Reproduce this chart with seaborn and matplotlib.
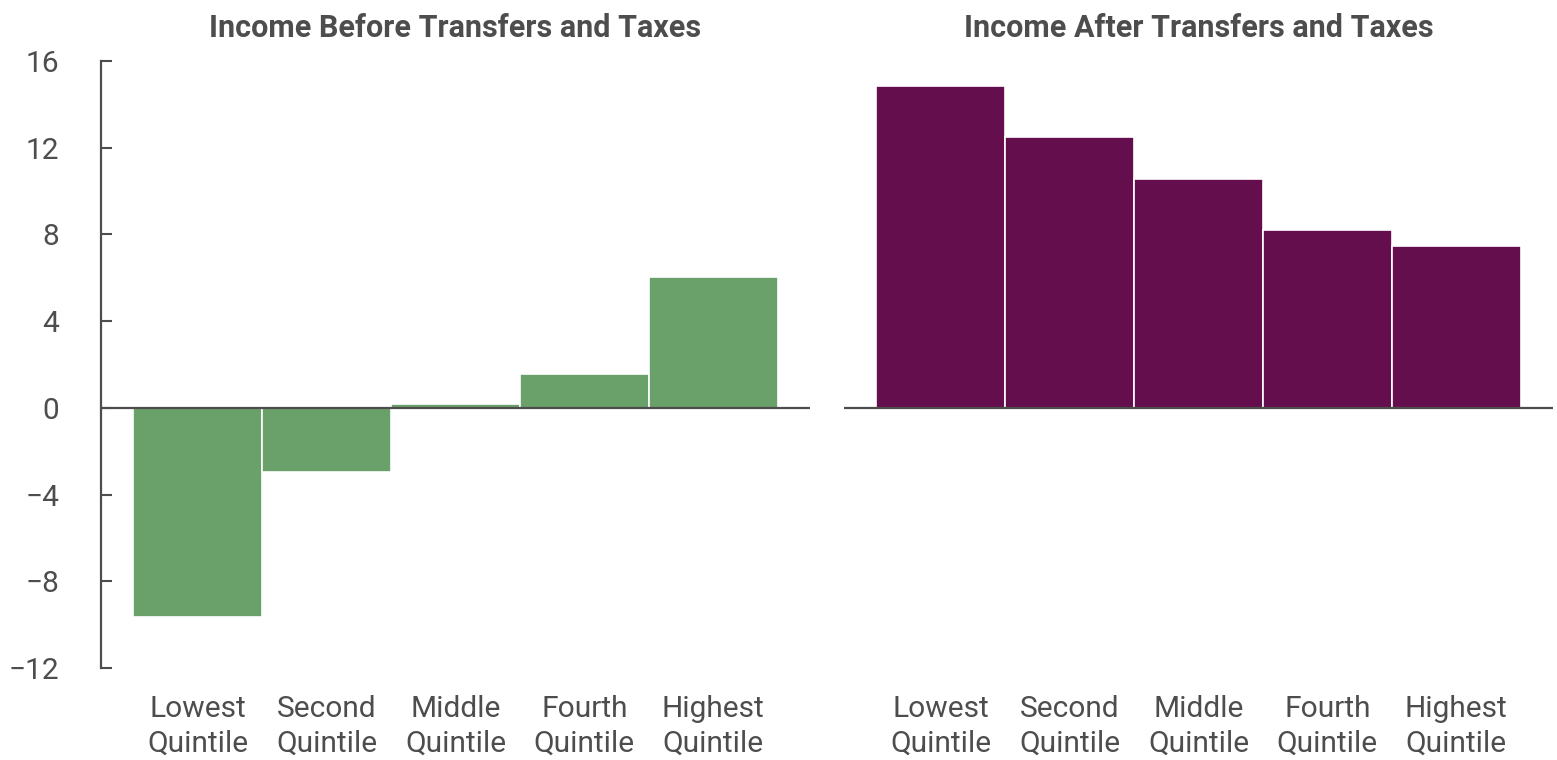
import matplotlib
matplotlib.use("Agg")
import matplotlib.pyplot as plt
import seaborn as sns
import pandas as pd

# Change in income by quintile (percent)
quintiles = ["Lowest\nQuintile", "Second\nQuintile", "Middle\nQuintile",
             "Fourth\nQuintile", "Highest\nQuintile"]
before_values = [-9.64, -2.97, 0.18, 1.55, 6.02]
after_values = [14.85, 12.5, 10.56, 8.22, 7.46]
panel_titles = ["Income Before Transfers and Taxes", "Income After Transfers and Taxes"]
y_ticks = [-12, -8, -4, 0, 4, 8, 12, 16]

GREEN = "#6aa06a"
PURPLE = "#650e4e"
INK = "#4d4d4d"

sns.set_theme(style="white")
plt.rcParams["font.family"] = ["Roboto", "DejaVu Sans"]
plt.rcParams["text.color"] = INK

fig = plt.figure(figsize=(15.57, 7.60), dpi=100)
ax_l = fig.add_axes([101 / 1557, 92 / 760, 709 / 1557, 607 / 760])
ax_r = fig.add_axes([844 / 1557, 92 / 760, 709 / 1557, 607 / 760], sharey=ax_l)

panels = [
    (ax_l, before_values, GREEN, panel_titles[0]),
    (ax_r, after_values, PURPLE, panel_titles[1]),
]

for ax, vals, color, title in panels:
    df = pd.DataFrame({"quintile": quintiles, "value": vals})
    sns.barplot(data=df, x="quintile", y="value", color=color, width=1.0,
                edgecolor="white", linewidth=1.2, saturation=1, ax=ax)
    ax.axhline(0, color=INK, linewidth=1.6, zorder=3)
    ax.set_xlim(-0.75, 4.75)
    ax.set_ylim(-12, 16)
    ax.set_xlabel("")
    ax.set_ylabel("")
    ax.set_title(title, fontsize=22, fontweight="bold", color=INK, pad=17)
    ax.tick_params(axis="x", length=0, pad=19.5, labelsize=21.5, labelcolor=INK)
    for lbl in ax.get_xticklabels():
        lbl.set_linespacing(1.3)
    for side in ["top", "right", "bottom"]:
        ax.spines[side].set_visible(False)

ax_l.set_yticks(y_ticks)
ax_l.tick_params(axis="y", direction="in", length=8, width=1.5, color=INK,
                 pad=30, labelsize=21.5, labelcolor=INK, left=True)
ax_l.spines["left"].set_color(INK)
ax_l.spines["left"].set_linewidth(1.6)

ax_r.spines["left"].set_visible(False)
ax_r.tick_params(axis="y", left=False, labelleft=False)

fig.savefig("out.png", dpi=100, facecolor="white")
